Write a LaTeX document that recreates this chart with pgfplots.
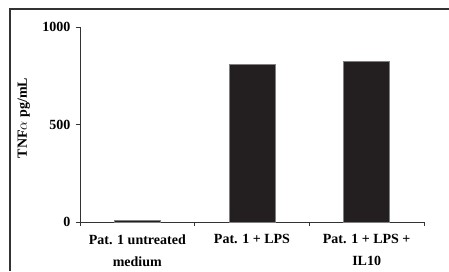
\documentclass[border=0pt]{standalone}
\usepackage{pgfplots}
\pgfplotsset{compat=1.18}
\usepackage{fontspec}
\setmainfont{Liberation Serif}
\definecolor{barc}{HTML}{231F20}
\definecolor{axc}{HTML}{333333}
\begin{document}
\begin{tikzpicture}[x=1pt,y=1pt]
\useasboundingbox (0,0) rectangle (449,271);
\draw[line width=1.2pt,color=axc] (10,0) -- (10,262) -- (449,262);
\begin{axis}[
  at={(80pt,49pt)}, anchor=south west,
  scale only axis, width=344pt, height=195pt,
  xmin=-0.5, xmax=2.5, ymin=0, ymax=1000,
  axis x line*=bottom, axis y line*=left,
  axis line style={-, line width=0.9pt, color=axc},
  tick align=outside,
  xtick={0,1,2},
  xticklabels={{Pat. 1 untreated\\[6pt]medium},{Pat. 1 + LPS},{Pat. 1 + LPS +\\[6pt]IL10}},
  major x tick style={draw=none},
  minor xtick={-0.5,0.5,1.5,2.5},
  minor tick length=4pt,
  minor x tick style={line width=0.9pt, color=axc},
  ytick={0,500,1000},
  yticklabels={0,500,1000},
  major tick length=4pt,
  major y tick style={line width=0.9pt, color=axc},
  xticklabel style={align=center, font=\bfseries\fontsize{14}{16}\selectfont, yshift=-5pt},
  yticklabel style={font=\bfseries\fontsize{14}{16}\selectfont, xshift=-2pt},
  ylabel={TNF$\alpha$ pg/mL},
  ylabel style={font=\bfseries\fontsize{14}{16}\selectfont, at={(axis description cs:-0.163,0.533)}, anchor=center},
  ]
\addplot[ybar, bar width=46pt, fill=barc, draw=gray, line width=0.4pt] coordinates {(0,10) (1,809) (2,824)};
\end{axis}
\end{tikzpicture}
\end{document}
